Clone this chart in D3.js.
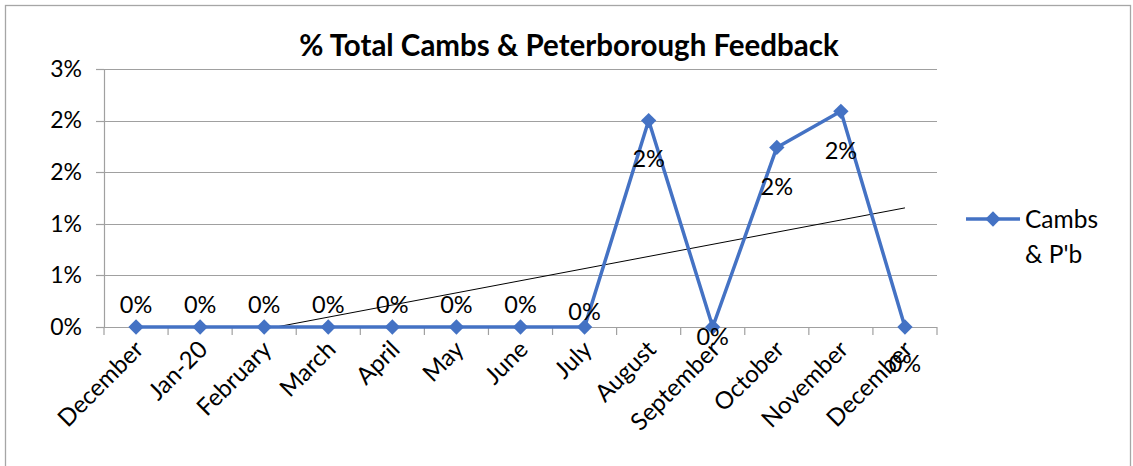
<!DOCTYPE html>
<html>
<head>
<meta charset="utf-8">
<script src="https://cdn.jsdelivr.net/npm/d3@7"></script>
<style>
  html, body { margin: 0; padding: 0; background: #fff; }
  svg { display: block; font-family: Lato, "Liberation Sans", sans-serif; }
</style>
</head>
<body>
<svg id="chart" width="1133" height="466"></svg>
<script>
// Monthly share of total feedback, Cambs & Peterborough (percent)
const months = ["December", "Jan-20", "February", "March", "April", "May", "June",
                "July", "August", "September", "October", "November", "December"];
const cambsValues = [0, 0, 0, 0, 0, 0, 0, 0, 2.0, 0, 1.74, 2.09, 0];
const yTicks = [0, 0.5, 1, 1.5, 2, 2.5];
const seriesName = ["Cambs", "& P'b"];
const title = "% Total Cambs & Peterborough Feedback";

const svg = d3.select("#chart");
const W = 1133, H = 466;
const margin = { left: 104, right: 196, top: 69, bottom: 139 };
const plotW = W - margin.left - margin.right;
const plotH = H - margin.top - margin.bottom;

// vertical offset (px) of each data label from its marker
const labelDy = [-22, -22, -22, -22, -22, -22, -22, -15, 38, 10, 39, 39, 37];

// outer chart frame
svg.append("rect")
  .attr("x", 5.5).attr("y", 5.5)
  .attr("width", 1125).attr("height", 470)
  .attr("fill", "#fff").attr("stroke", "#a6a6a6").attr("stroke-width", 1.3);

svg.append("text")
  .attr("x", 569).attr("y", 56)
  .attr("text-anchor", "middle")
  .attr("font-size", 29.5).attr("font-weight", "bold").attr("fill", "#000")
  .text(title);

const g = svg.append("g").attr("transform", `translate(${margin.left},${margin.top})`);

const idx = months.map((_, i) => i);
const x = d3.scaleBand().domain(idx).range([0, plotW]).paddingInner(0).paddingOuter(0);
const xc = i => x(i) + x.bandwidth() / 2;
const y = d3.scaleLinear().domain([0, 2.5]).range([plotH, 0]);

const fmtPct = v => Math.round(v) + "%";

// horizontal gridlines
g.append("g").selectAll("line").data(yTicks.slice(1)).join("line")
  .attr("x1", 0).attr("x2", plotW)
  .attr("y1", d => Math.round(y(d)) + 0.5).attr("y2", d => Math.round(y(d)) + 0.5)
  .attr("stroke", "#a0a0a0").attr("stroke-width", 1.2);

// y axis
const yAxis = g.append("g")
  .call(d3.axisLeft(y).tickValues(yTicks).tickFormat(fmtPct).tickSize(0).tickPadding(22));
yAxis.select(".domain").attr("stroke", "#a0a0a0").attr("stroke-width", 1.2);
yAxis.selectAll("text").attr("font-size", 23).attr("fill", "#000")
  .attr("font-family", "Lato, sans-serif");
// small outer tick marks on the y axis
g.append("g").selectAll("line").data(yTicks).join("line")
  .attr("x1", -8).attr("x2", 0)
  .attr("y1", d => Math.round(y(d)) + 0.5).attr("y2", d => Math.round(y(d)) + 0.5)
  .attr("stroke", "#a0a0a0").attr("stroke-width", 1.2);

// x axis with ticks between categories
const xAxisG = g.append("g").attr("transform", `translate(0,${plotH})`);
xAxisG.append("line").attr("x1", 0).attr("x2", plotW).attr("y1", 0.5).attr("y2", 0.5)
  .attr("stroke", "#a0a0a0").attr("stroke-width", 1.2);
const boundaries = d3.range(months.length + 1).map(i => i * x.step());
xAxisG.selectAll("line.tk").data(boundaries).join("line").attr("class", "tk")
  .attr("x1", d => d).attr("x2", d => d).attr("y1", 0).attr("y2", 8)
  .attr("stroke", "#a0a0a0").attr("stroke-width", 1.2);
xAxisG.selectAll("text").data(idx).join("text")
  .attr("transform", i => `translate(${xc(i) - 3},${12}) rotate(-45)`)
  .attr("text-anchor", "end")
  .attr("dy", "0.7em")
  .attr("font-size", 24).attr("fill", "#000")
  .text(i => months[i]);

// linear trendline (least squares), clipped at the axis minimum
const n = cambsValues.length;
const mx = d3.mean(idx), my = d3.mean(cambsValues);
const slope = d3.sum(idx, i => (i - mx) * (cambsValues[i] - my)) / d3.sum(idx, i => (i - mx) ** 2);
const icpt = my - slope * mx;
const x0 = Math.max(0, -icpt / slope);
const xScaleCont = d3.scaleLinear().domain([0, n - 1]).range([xc(0), xc(n - 1)]);
g.append("line")
  .attr("x1", xScaleCont(x0)).attr("y1", y(icpt + slope * x0))
  .attr("x2", xScaleCont(n - 1)).attr("y2", y(icpt + slope * (n - 1)))
  .attr("stroke", "#000").attr("stroke-width", 1);

const blue = "#4472c4";
const line = d3.line().x(i => xc(i)).y(i => y(cambsValues[i]));
g.append("path").datum(idx).attr("d", line)
  .attr("fill", "none").attr("stroke", blue).attr("stroke-width", 3.5)
  .attr("stroke-linejoin", "round");

const diamond = d3.symbol().type(d3.symbolDiamond2).size(150);
g.selectAll("path.mk").data(idx).join("path").attr("class", "mk")
  .attr("transform", i => `translate(${xc(i)},${y(cambsValues[i])})`)
  .attr("d", diamond).attr("fill", blue);

// data labels
g.selectAll("text.lbl").data(idx).join("text").attr("class", "lbl")
  .attr("x", i => xc(i))
  .attr("y", i => y(cambsValues[i]) + labelDy[i])
  .attr("dy", "0.35em")
  .attr("text-anchor", "middle")
  .attr("font-size", 23.5).attr("fill", "#000")
  .text(i => fmtPct(cambsValues[i]));

// legend
const lg = svg.append("g").attr("transform", "translate(966,219)");
lg.append("line").attr("x1", 0).attr("x2", 54).attr("y1", 0).attr("y2", 0)
  .attr("stroke", blue).attr("stroke-width", 3.5);
lg.append("path").attr("transform", "translate(27,0)").attr("d", diamond).attr("fill", blue);
lg.selectAll("text").data(seriesName).join("text")
  .attr("x", 59).attr("y", (d, i) => i * 35).attr("dy", "0.35em")
  .attr("font-size", 24.5).attr("fill", "#000")
  .text(d => d);
</script>
</body>
</html>
